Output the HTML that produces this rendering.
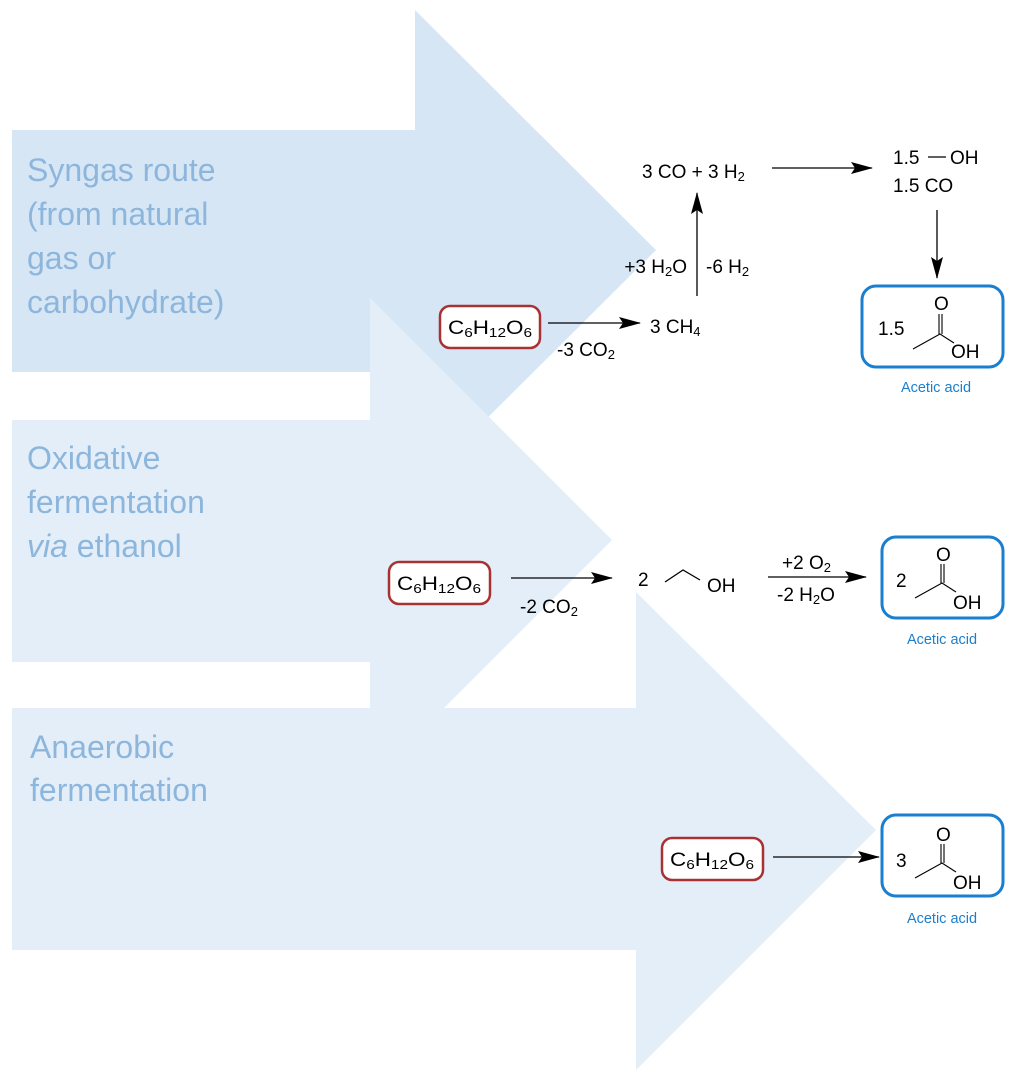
<!DOCTYPE html>
<html><head><meta charset="utf-8"><style>
html,body{margin:0;padding:0;background:#fff}
svg{display:block}
text{font-family:"Liberation Sans",Arial,sans-serif}
</style></head><body>
<svg width="1024" height="1082" viewBox="0 0 1024 1082" xmlns="http://www.w3.org/2000/svg">
<defs>
<marker id="ah" markerWidth="22" markerHeight="12" refX="21" refY="6" orient="auto" markerUnits="userSpaceOnUse">
<path d="M0,0 L22,6 L0,12 L4,6 Z" fill="#000"/></marker>
</defs>
<polygon points="12,130 415,130 415,10 656,250 415,490 415,372 12,372" fill="#d6e6f5"/>
<polygon points="12,420 370,420 370,298 612,540 370,782 370,662 12,662" fill="#e4eef9"/>
<polygon points="12,708 636,708 636,592 876,830 636,1070 636,950 12,950" fill="#e4eef9"/>
<g font-size="32" fill="#8db6dd">
<text x="27" y="181">Syngas route</text>
<text x="27" y="225">(from natural</text>
<text x="27" y="269">gas or</text>
<text x="27" y="313">carbohydrate)</text>
<text x="27" y="469">Oxidative</text>
<text x="27" y="513">fermentation</text>
<text x="27" y="557"><tspan font-style="italic">via</tspan> ethanol</text>
<text x="30" y="758">Anaerobic</text>
<text x="30" y="801">fermentation</text>
</g>
<g fill="#fff" stroke="#a83232" stroke-width="2.5">
<rect x="440" y="306" width="100" height="42" rx="10"/>
<rect x="389" y="562" width="101" height="42" rx="10"/>
<rect x="662" y="838" width="101" height="42" rx="10"/>
</g>
<g font-size="19" fill="#000">
<text x="448" y="334" textLength="84" lengthAdjust="spacingAndGlyphs">C<tspan font-size="13" dy="3">6</tspan><tspan dy="-3">H</tspan><tspan font-size="13" dy="3">12</tspan><tspan dy="-3">O</tspan><tspan font-size="13" dy="3">6</tspan></text>
<text x="397" y="590" textLength="84" lengthAdjust="spacingAndGlyphs">C<tspan font-size="13" dy="3">6</tspan><tspan dy="-3">H</tspan><tspan font-size="13" dy="3">12</tspan><tspan dy="-3">O</tspan><tspan font-size="13" dy="3">6</tspan></text>
<text x="670" y="866" textLength="84" lengthAdjust="spacingAndGlyphs">C<tspan font-size="13" dy="3">6</tspan><tspan dy="-3">H</tspan><tspan font-size="13" dy="3">12</tspan><tspan dy="-3">O</tspan><tspan font-size="13" dy="3">6</tspan></text>
<text x="557" y="356">-3 CO<tspan font-size="13" dy="3">2</tspan></text>
<text x="650" y="333">3 CH<tspan font-size="13" dy="3">4</tspan></text>
<text x="687" y="273" text-anchor="end">+3 H<tspan font-size="13" dy="3">2</tspan><tspan dy="-3">O</tspan></text>
<text x="706" y="273">-6 H<tspan font-size="13" dy="3">2</tspan></text>
<text x="642" y="178">3 CO + 3 H<tspan font-size="13" dy="3">2</tspan></text>
<text x="893" y="164">1.5</text>
<text x="950" y="164">OH</text>
<text x="893" y="192">1.5 CO</text>
<text x="520" y="613">-2 CO<tspan font-size="13" dy="3">2</tspan></text>
<text x="638" y="586">2</text>
<text x="707" y="592">OH</text>
<text x="782" y="569">+2 O<tspan font-size="13" dy="3">2</tspan></text>
<text x="777" y="601">-2 H<tspan font-size="13" dy="3">2</tspan><tspan dy="-3">O</tspan></text>
</g>
<g stroke="#000" stroke-width="1.3" fill="none">
<line x1="548" y1="323" x2="640" y2="323" marker-end="url(#ah)"/>
<line x1="697" y1="296" x2="697" y2="193" marker-end="url(#ah)"/>
<line x1="772" y1="168" x2="872" y2="168" marker-end="url(#ah)"/>
<line x1="937" y1="210" x2="937" y2="278" marker-end="url(#ah)"/>
<line x1="928" y1="157" x2="946" y2="157"/>
<line x1="511" y1="578" x2="612" y2="578" marker-end="url(#ah)"/>
<line x1="768" y1="577" x2="866" y2="577" marker-end="url(#ah)"/>
<line x1="773" y1="857" x2="879" y2="857" marker-end="url(#ah)"/>
<polyline points="665,582 683,570 700,580"/>
</g>
<g fill="#fff" stroke="#1a7fcf" stroke-width="3">
<rect x="862" y="286" width="141" height="81" rx="14"/>
<rect x="882" y="537" width="121" height="81" rx="14"/>
<rect x="882" y="815" width="121" height="81" rx="14"/>
</g>
<g font-size="19" fill="#000">
<text x="878" y="335">1.5</text>
<text x="934" y="310">O</text>
<text x="951" y="358">OH</text>
<text x="896" y="587">2</text>
<text x="936" y="561">O</text>
<text x="953" y="609">OH</text>
<text x="896" y="867">3</text>
<text x="936" y="841">O</text>
<text x="953" y="889">OH</text>
</g>
<g stroke="#000" stroke-width="1.1" fill="none">
<polyline points="913,349 940,334 954,343"/><line x1="939" y1="314" x2="939" y2="334"/><line x1="942" y1="314" x2="942" y2="334"/>
<polyline points="915,598 942,583 956,592"/><line x1="941" y1="564" x2="941" y2="583"/><line x1="944" y1="564" x2="944" y2="583"/>
<polyline points="915,878 942,863 956,872"/><line x1="941" y1="844" x2="941" y2="863"/><line x1="944" y1="844" x2="944" y2="863"/>
</g>
<g font-size="14.5" fill="#1a7fcf" text-anchor="middle">
<text x="936" y="392">Acetic acid</text>
<text x="942" y="644">Acetic acid</text>
<text x="942" y="923">Acetic acid</text>
</g>
</svg>
</body></html>
